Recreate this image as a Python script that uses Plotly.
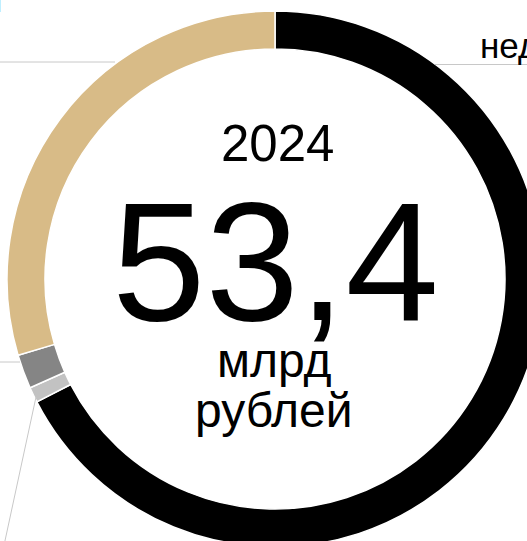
import plotly.graph_objects as go

# data
categories = ["недвижимость", "прочее", "транспорт", "ценные бумаги"]
values = [36.0, 0.5, 1.1, 15.8]
colors = ["#000000", "#c2c2c2", "#858585", "#d8bb87"]
year_label = "2024"
total_label = "53,4"
unit_lines = ["млрд", "рублей"]

W, H = 550, 550
FONT = "Liberation Sans, Arial, sans-serif"

def px(x):
    return x / W

def py(y):
    return 1 - y / H

cx, cy, R = 275, 279, 268

fig = go.Figure(go.Pie(
    labels=categories,
    values=values,
    marker=dict(colors=colors, line=dict(color="#ffffff", width=1.5)),
    hole=230 / 268,
    sort=False,
    direction="clockwise",
    rotation=0,
    textinfo="none",
    hoverinfo="label+value",
    domain=dict(x=[px(cx - R), px(cx + R)], y=[py(cy + R), py(cy - R)]),
    showlegend=False,
))

ann = []
def add_text(text, x, y, size, xanchor="center"):
    ann.append(dict(text=text, x=px(x), y=py(y), xref="paper", yref="paper",
                    xanchor=xanchor, yanchor="middle", showarrow=False,
                    font=dict(family=FONT, size=size, color="#000000")))

add_text(year_label, 277, 143.5, 51)
add_text(total_label, 275, 261.5, 168)
add_text(unit_lines[0], 274, 360.4, 48)
add_text(unit_lines[1], 274, 410.5, 48)
add_text(categories[0], 478, 45.9, 35, xanchor="left")
add_text(categories[3], 4, -1, 35, xanchor="right")
add_text(categories[2], -10, 350, 35, xanchor="right")
add_text(categories[1], -10, 560, 35, xanchor="right")

line_style = dict(color="#c8c8c8", width=1)
shapes = [
    dict(type="line", xref="paper", yref="paper", x0=px(0), y0=py(62), x1=px(115), y1=py(62), line=line_style),
    dict(type="line", xref="paper", yref="paper", x0=px(435), y0=py(64.5), x1=px(550), y1=py(64.5), line=line_style),
    dict(type="line", xref="paper", yref="paper", x0=px(0), y0=py(362), x1=px(20), y1=py(362), line=line_style),
    dict(type="line", xref="paper", yref="paper", x0=px(36), y0=py(397), x1=px(3), y1=py(550), line=line_style),
]

fig.update_layout(
    width=W, height=H,
    margin=dict(l=0, r=0, t=0, b=0),
    paper_bgcolor="#ffffff",
    plot_bgcolor="#ffffff",
    annotations=ann,
    shapes=shapes,
)

fig.write_html(
    "out.html",
    config={"displayModeBar": False},
    post_script="document.body.style.margin='0';document.body.style.overflow='hidden';"
                "document.documentElement.style.overflow='hidden';",
)
